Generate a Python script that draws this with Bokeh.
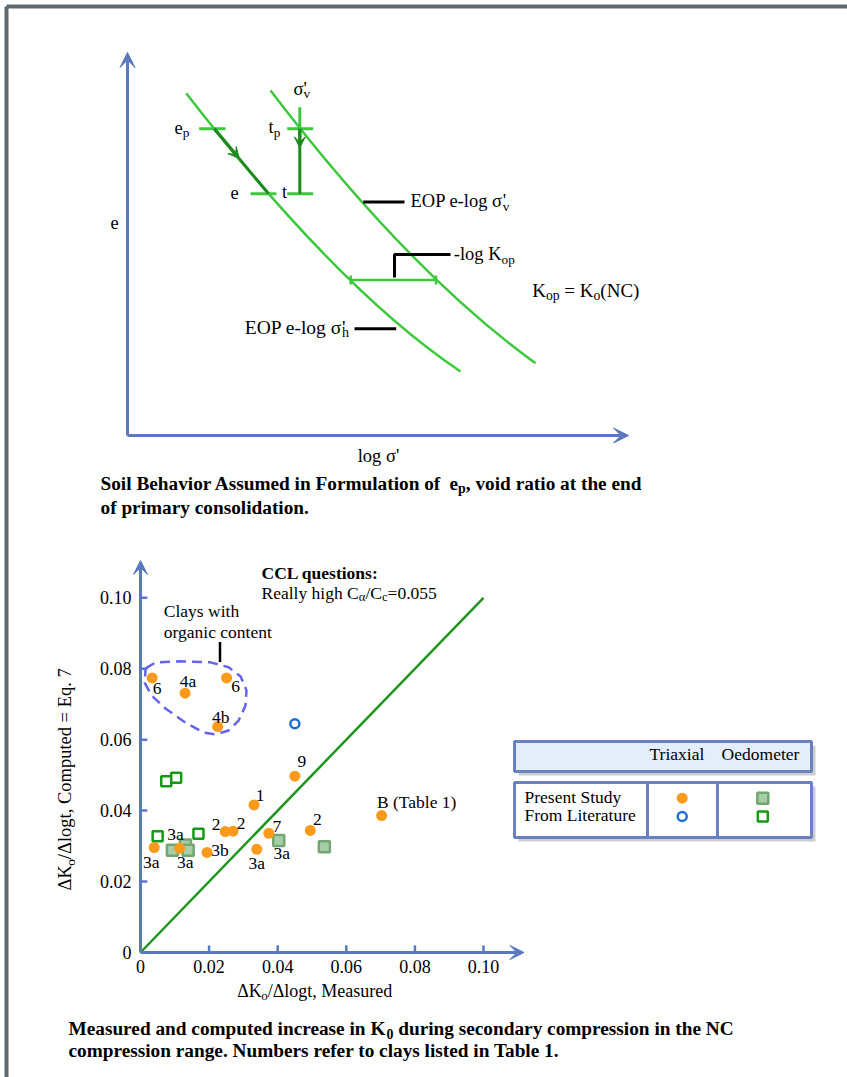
import math
from bokeh.plotting import figure
from bokeh.models import Range1d, Arrow, VeeHead
from bokeh.core.properties import value
from bokeh.embed import file_html
from bokeh.resources import INLINE

W, H = 847, 1077
SERIF = value("Liberation Serif")

AXIS_BLUE = "#5a78bf"
CURVE_GREEN = "#3ec83e"
DARK_GREEN = "#1f8a1f"
ORANGE = "#fa9a1a"
RING_BLUE = "#1f6fd8"
OED_GREEN = "#169a16"
OED_FILL = "#a8cea8"
OED_EDGE = "#72a672"
BLOB = "#6464ec"
FRAME = "#5e6a72"

# ---------------- lower chart: dK0/dlogt, measured vs computed (Eq. 7) ----------------
present_tri_x = [0.0034, 0.0130, 0.0251, 0.0225, 0.0450, 0.0331, 0.0247, 0.0270,
                 0.0374, 0.0495, 0.0703, 0.0040, 0.0114, 0.0194, 0.0339]
present_tri_y = [0.0774, 0.0731, 0.0774, 0.0637, 0.0497, 0.0416, 0.0341, 0.0342,
                 0.0336, 0.0344, 0.0386, 0.0296, 0.0294, 0.0282, 0.0291]
present_tri_clay = ["6", "4a", "6", "4b", "9", "1", "2", "2",
                    "7", "2", "B (Table 1)", "3a", "3a", "3b", "3a"]
literature_tri_x = [0.0450]
literature_tri_y = [0.0645]
present_oed_x = [0.0093, 0.0131, 0.0139, 0.0403, 0.0536]
present_oed_y = [0.0288, 0.0303, 0.0288, 0.0316, 0.0298]
present_oed_clay = ["", "", "3a", "3a", ""]
literature_oed_x = [0.0075, 0.0104, 0.0050, 0.0169]
literature_oed_y = [0.0483, 0.0493, 0.0328, 0.0335]
equality_x = [0.0, 0.10]
equality_y = [0.0, 0.10]
tick_values = [0.0, 0.02, 0.04, 0.06, 0.08, 0.10]
tick_labels = ["0", "0.02", "0.04", "0.06", "0.08", "0.10"]
# outline around the organic clays
organic_x = [0.0015, 0.0044, 0.0117, 0.0204, 0.0257, 0.0292, 0.0309, 0.0306,
             0.0286, 0.0257, 0.0219, 0.0184, 0.0131, 0.0073, 0.0032, 0.0012, 0.0015]
organic_y = [0.0801, 0.0818, 0.0821, 0.0818, 0.0804, 0.0778, 0.0739, 0.0696,
             0.0654, 0.0626, 0.0615, 0.0620, 0.0648, 0.0688, 0.0725, 0.0761, 0.0801]

# label offsets (screen px) from each point to its clay number
tri_dx = [5, 3, 9, 3, 7, 6, -9, 8, 8, 7, 35, -3, -4, 13, 0]
tri_dy = [11, -12, 9, -10, -15, -9, -7, -8, -7, -11, -14, 14, -14, -2, 14]
oed_dx = [0, 0, -3, 3, 0]
oed_dy = [0, 0, 12, 13, 0]

# ---------------- upper sketch: e versus log sigma' (sketch units) ----------------
sketch_y_tip = 3.83
sketch_x_tip = 5.01
# quadratic curves: [start, control, end]
curve_h_x = [0.587, 2.112, 3.33]
curve_h_y = [3.423, 1.456, 0.64]
curve_v_x = [1.43, 2.818, 4.08]
curve_v_y = [3.45, 1.632, 0.723]
e_p_level, e_level = 3.067, 2.417
ep_tick = [0.717, 0.98]
e_tick = [1.23, 1.49]
t_tick = [1.597, 1.857]
t_line_x = 1.723
sec_comp_x = [0.868, 1.411]   # e_p -> e along the h-curve
kop_x = [2.232, 3.085]
kop_level = 1.555

# Times / Liberation Serif advance widths (em)
REG_EM = {' ': .25, "'": .18, '(': .333, ')': .333, ',': .25, '-': .333, '.': .25, '/': .278,
          ':': .278, '=': .564, 'A': .722, 'B': .667, 'C': .667, 'D': .722, 'E': .611, 'K': .722,
          'L': .611, 'M': .889, 'N': .722, 'O': .722, 'P': .556, 'R': .667, 'S': .556, 'T': .611,
          'a': .444, 'b': .5, 'c': .444, 'd': .5, 'e': .444, 'f': .333, 'g': .5, 'h': .5, 'i': .278,
          'l': .278, 'm': .778, 'n': .5, 'o': .5, 'p': .5, 'q': .5, 'r': .333, 's': .389, 't': .278,
          'u': .5, 'v': .5, 'w': .722, 'x': .5, 'y': .5, 'Δ': .612, 'σ': .54, 'α': .53}
BOLD_EM = {' ': .25, ',': .25, '.': .25, ':': .333, '(': .333, ')': .333, 'A': .722, 'B': .667,
           'C': .722, 'K': .778, 'L': .667, 'M': .944, 'N': .722, 'P': .611, 'S': .556, 'T': .667,
           'a': .5, 'b': .556, 'c': .444, 'd': .556, 'e': .444, 'f': .333, 'g': .5, 'h': .556,
           'i': .278, 'l': .278, 'm': .833, 'n': .556, 'o': .5, 'p': .556, 'q': .556, 'r': .444,
           's': .389, 't': .333, 'u': .556, 'v': .5, 'y': .5, 'w': .722, 'x': .5}

p = figure(width=W, height=H, x_range=Range1d(0, W), y_range=Range1d(H, 0),
           output_backend="svg", toolbar_location=None,
           x_axis_location=None, y_axis_location=None, min_border=0,
           outline_line_color=None, background_fill_color="white", border_fill_color="white")
p.grid.visible = False
p.extra_x_ranges = {"sx": Range1d(-1.27, 7.20), "mx": Range1d(-140 / 3430, 707 / 3430)}
p.extra_y_ranges = {"sy": Range1d(-6.42, 4.35), "cy": Range1d(-125 / 3547, 952 / 3547)}
SK = dict(x_range_name="sx", y_range_name="sy")
CH = dict(x_range_name="mx", y_range_name="cy")


def tw(s, size, bold=False):
    tbl = BOLD_EM if bold else REG_EM
    return sum(tbl.get(c, 0.5) for c in s) * size


def rich(x, y, parts, size, bold=False, angle=0.0, anchor="left", color="black"):
    """Text with subscripts, (x, y) = start of the baseline.
    parts are (text, role): role '' | 'sub' | 'subk' (subscript set under the previous run)."""
    sub_size = 0.72 * size
    placed, pos, last = [], 0.0, 0.0
    for txt, role in parts:
        fs = size if role == "" else sub_size
        start = last if role == "subk" else pos
        lead = len(txt) - len(txt.lstrip(" "))
        drop = 0.25 * size if role in ("sub", "subk") else 0.0
        placed.append((start + tw(" " * lead, fs, bold), drop, txt.strip(" "), fs))
        last = start
        pos = max(pos, start + tw(txt, fs, bold))
    shift = {"left": 0.0, "center": -pos / 2, "right": -pos}[anchor]
    lift = 0.3 * size   # baseline -> middle of the em box
    for start, drop, txt, fs in placed:
        a = start + shift
        d = drop - lift
        if angle:
            px, py = x + d, y - a
        else:
            px, py = x + a, y + d
        p.text(x=[px], y=[py], text=[txt], angle=angle, text_font=SERIF,
               text_font_size=f"{fs:.1f}px", text_font_style="bold" if bold else "normal",
               text_color=color, text_align="left", text_baseline="middle")


# page frame
p.line(x=[6, W], y=[6, 6], line_color=FRAME, line_width=4)
p.line(x=[6, 6], y=[6, H], line_color=FRAME, line_width=4)

# ================= upper sketch =================
p.add_layout(Arrow(end=VeeHead(size=15, fill_color=AXIS_BLUE, line_color=AXIS_BLUE),
                   x_start=0, y_start=0, x_end=0, y_end=sketch_y_tip,
                   line_color=AXIS_BLUE, line_width=3, **SK))
p.add_layout(Arrow(end=VeeHead(size=15, fill_color=AXIS_BLUE, line_color=AXIS_BLUE),
                   x_start=0, y_start=0, x_end=sketch_x_tip, y_end=0,
                   line_color=AXIS_BLUE, line_width=3, **SK))

for cx_, cy_ in ((curve_h_x, curve_h_y), (curve_v_x, curve_v_y)):
    p.quadratic(x0=[cx_[0]], y0=[cy_[0]], cx=[cx_[1]], cy=[cy_[1]], x1=[cx_[2]], y1=[cy_[2]],
                line_color=CURVE_GREEN, line_width=2.5, **SK)

# level ticks e_p, e, t_p, t
p.segment(x0=[ep_tick[0], e_tick[0], t_tick[0], t_tick[0]],
          y0=[e_p_level, e_level, e_p_level, e_level],
          x1=[ep_tick[1], e_tick[1], t_tick[1], t_tick[1]],
          y1=[e_p_level, e_level, e_p_level, e_level],
          line_color=CURVE_GREEN, line_width=3, **SK)
p.segment(x0=[t_line_x], y0=[e_p_level + 0.216], x1=[t_line_x], y1=[e_p_level - 0.08],
          line_color=CURVE_GREEN, line_width=3, **SK)
# secondary compression path along the curve and in time
p.segment(x0=[sec_comp_x[0], t_line_x], y0=[e_p_level, e_p_level],
          x1=[sec_comp_x[1], t_line_x], y1=[e_level, e_level],
          line_color=DARK_GREEN, line_width=3, **SK)
mid_frac = 0.457
p.add_layout(Arrow(end=VeeHead(size=11, fill_color=DARK_GREEN, line_color=DARK_GREEN),
                   x_start=sec_comp_x[0], y_start=e_p_level,
                   x_end=sec_comp_x[0] + mid_frac * (sec_comp_x[1] - sec_comp_x[0]),
                   y_end=e_p_level - mid_frac * (e_p_level - e_level),
                   line_color=DARK_GREEN, line_width=3, **SK))
p.add_layout(Arrow(end=VeeHead(size=11, fill_color=DARK_GREEN, line_color=DARK_GREEN),
                   x_start=t_line_x, y_start=e_p_level, x_end=t_line_x, y_end=e_p_level - 0.19,
                   line_color=DARK_GREEN, line_width=3, **SK))
# -log Kop spacing between the two curves
p.segment(x0=[kop_x[0], kop_x[0], kop_x[1]], y0=[kop_level, kop_level - 0.045, kop_level - 0.045],
          x1=[kop_x[1], kop_x[0], kop_x[1]], y1=[kop_level, kop_level + 0.045, kop_level + 0.045],
          line_color=CURVE_GREEN, line_width=2.5, **SK)
# black leaders
p.line(x=[2.357, 2.77], y=[2.335, 2.335], line_color="black", line_width=3, **SK)
p.line(x=[2.67, 2.67, 3.23], y=[1.58, 1.81, 1.81], line_color="black", line_width=3, **SK)
p.line(x=[2.27, 2.687], y=[1.067, 1.067], line_color="black", line_width=3, **SK)

S1 = 18.5
rich(114, 228, [("e", "")], S1, anchor="center")
rich(378, 461, [("log σ'", "")], S1, anchor="center")
rich(293, 94, [("σ", ""), ("'", ""), ("v", "subk")], S1)
rich(174, 132.5, [("e", ""), ("p", "sub")], S1)
rich(268, 132.5, [("t", ""), ("p", "sub")], S1)
rich(230, 197.5, [("e", "")], S1)
rich(281.5, 197.5, [("t", "")], S1)
rich(410, 206.5, [("EOP e-log σ", ""), ("'", ""), ("v", "subk")], S1)
rich(453.3, 259.5, [("-log K", ""), ("op", "sub")], S1)
rich(531.7, 296, [("K", ""), ("op", "sub"), (" = K", ""), ("o", "sub"), ("(NC)", "")], 19)
rich(348.5, 332.5, [("EOP e-log σ", ""), ("'", ""), ("h", "subk")], 19.5, anchor="right")

rich(100, 489, [("Soil Behavior Assumed in Formulation of", ""), ("  e", ""), ("p", "sub"),
                (", void ratio at the end", "")], 19.3, bold=True)
rich(100, 513, [("of primary consolidation.", "")], 19.3, bold=True)

# ================= lower chart =================
p.add_layout(Arrow(end=VeeHead(size=14, fill_color=AXIS_BLUE, line_color=AXIS_BLUE),
                   x_start=0, y_start=0, x_end=0, y_end=0.1105,
                   line_color=AXIS_BLUE, line_width=3, **CH))
p.add_layout(Arrow(end=VeeHead(size=14, fill_color=AXIS_BLUE, line_color=AXIS_BLUE),
                   x_start=0, y_start=0, x_end=0.1118, y_end=0,
                   line_color=AXIS_BLUE, line_width=3, **CH))
nz = [v for v in tick_values if v > 0]
p.segment(x0=nz, y0=[0] * len(nz), x1=nz, y1=[0.002] * len(nz),
          line_color=AXIS_BLUE, line_width=2.5, **CH)
p.segment(x0=[0] * len(nz), y0=nz, x1=[0.002] * len(nz), y1=nz,
          line_color=AXIS_BLUE, line_width=2.5, **CH)
p.text(x=tick_values, y=[0] * len(tick_values), text=tick_labels, x_offset=0, y_offset=14,
       text_font=SERIF, text_font_size="18px", text_align="center", text_baseline="middle",
       text_color="black", **CH)
p.text(x=[0] * len(tick_values), y=tick_values, text=tick_labels, x_offset=-9, y_offset=0,
       text_font=SERIF, text_font_size="18px", text_align="right", text_baseline="middle",
       text_color="black", **CH)

p.line(x=equality_x, y=equality_y, line_color="#1d961d", line_width=2.5, **CH)
p.line(x=organic_x, y=organic_y, line_color=BLOB, line_width=2.5, line_dash="10 6", **CH)

p.scatter(x=present_oed_x, y=present_oed_y, marker="square", size=11,
          fill_color=OED_FILL, line_color=OED_EDGE, line_width=2.5, **CH)
p.scatter(x=literature_oed_x, y=literature_oed_y, marker="square", size=10,
          fill_color="white", line_color=OED_GREEN, line_width=2.5, **CH)
p.scatter(x=literature_tri_x, y=literature_tri_y, marker="circle", size=9,
          fill_color="white", line_color=RING_BLUE, line_width=2.5, **CH)
p.scatter(x=present_tri_x, y=present_tri_y, marker="circle", size=11,
          fill_color=ORANGE, line_color=None, **CH)

p.text(x=present_tri_x, y=present_tri_y, text=present_tri_clay, x_offset=tri_dx, y_offset=tri_dy,
       text_font=SERIF, text_font_size="17.5px", text_align="center", text_baseline="middle",
       text_color="black", **CH)
p.text(x=present_oed_x, y=present_oed_y, text=present_oed_clay, x_offset=oed_dx, y_offset=oed_dy,
       text_font=SERIF, text_font_size="17.5px", text_align="center", text_baseline="middle",
       text_color="black", **CH)

S2 = 17.5
rich(261, 577.5, [("CCL questions:", "")], S2, bold=True)
rich(261, 597.5, [("Really high C", ""), ("α", "sub"), ("/C", ""), ("c", "sub"), ("=0.055", "")], S2)
rich(163.3, 615.5, [("Clays with", "")], S2)
rich(163.3, 636.5, [("organic content", "")], S2)
p.line(x=[219.5, 219.5], y=[641.5, 661.5], line_color="black", line_width=2.5)

rich(70.5, 890, [("ΔK", ""), ("o", "sub"), ("/Δlogt, Computed = Eq. 7", "")], 18.5, angle=math.pi / 2)
rich(236.7, 995.5, [("ΔK", ""), ("o", "sub"), ("/Δlogt, Measured", "")], 18)

# legend table
p.quad(left=[518, 518], right=[815, 815], top=[745, 786], bottom=[775, 841],
       fill_color="#cdcdcd", line_color=None)
p.quad(left=[514], right=[811], top=[741], bottom=[771],
       fill_color="#e4eefb", line_color="#6a80c0", line_width=3)
p.quad(left=[514], right=[811], top=[782], bottom=[837],
       fill_color="white", line_color="#6a80c0", line_width=3)
p.segment(x0=[647, 717], y0=[782, 782], x1=[647, 717], y1=[837, 837],
          line_color="#6a80c0", line_width=3)
rich(676.7, 759, [("Triaxial", "")], S2, anchor="center")
rich(760, 759, [("Oedometer", "")], S2, anchor="center")
rich(524, 802, [("Present Study", "")], S2)
rich(524, 820, [("From Literature", "")], S2)
p.scatter(x=[681.7], y=[797.7], marker="circle", size=11, fill_color=ORANGE, line_color=None)
p.scatter(x=[681.7], y=[816], marker="circle", size=9, fill_color="white",
          line_color=RING_BLUE, line_width=2.5)
p.scatter(x=[762.3], y=[797.7], marker="square", size=11, fill_color=OED_FILL,
          line_color=OED_EDGE, line_width=2.5)
p.scatter(x=[762.3], y=[816], marker="square", size=10, fill_color="white",
          line_color=OED_GREEN, line_width=2.5)

rich(68, 1034, [("Measured and computed increase in K", ""), ("0", "sub"),
                (" during secondary compression in the NC", "")], 19.3, bold=True)
rich(68, 1056, [("compression range. Numbers refer to clays listed in Table 1.", "")], 19.3, bold=True)

open("out.html", "w").write(file_html(p, INLINE))
